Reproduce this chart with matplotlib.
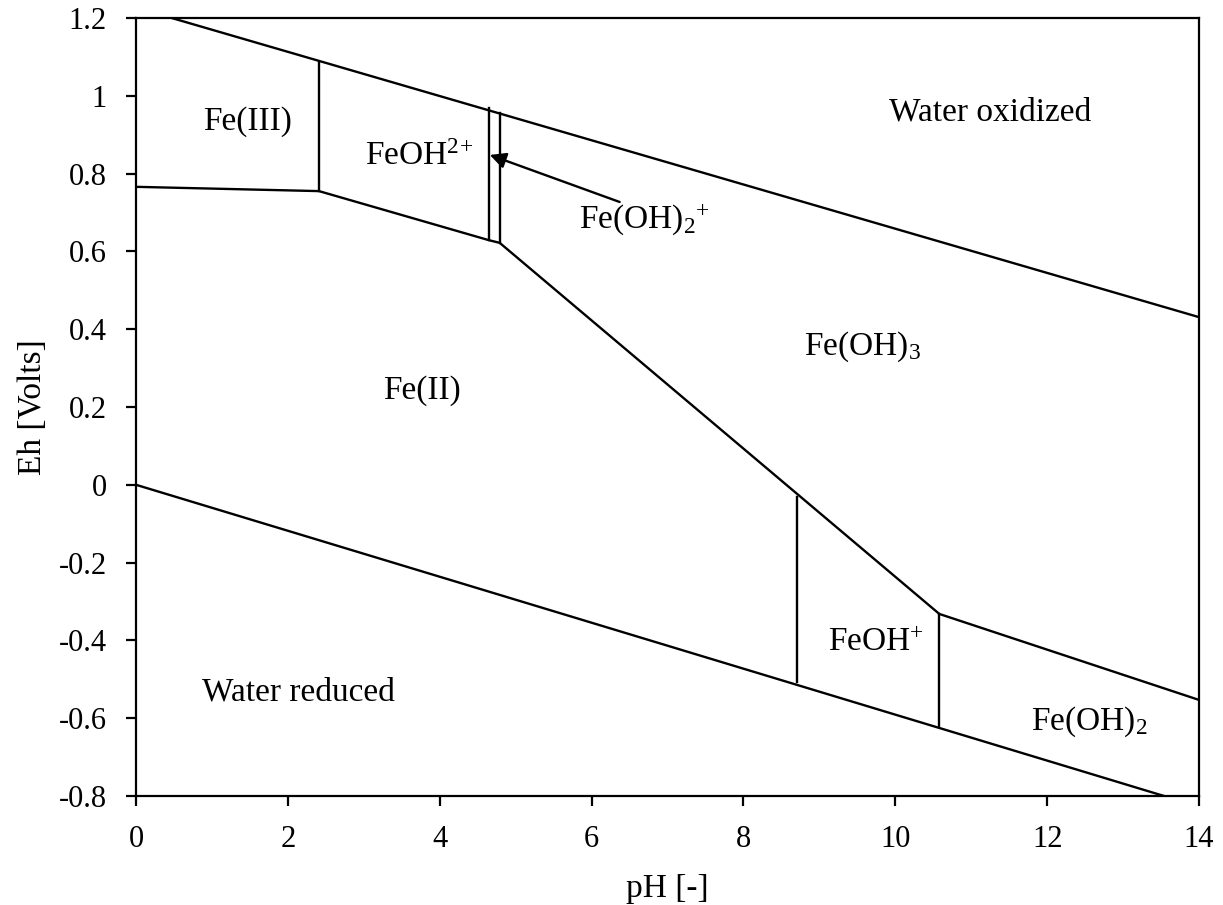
import matplotlib
matplotlib.use("Agg")
import matplotlib.pyplot as plt

plt.rcParams["font.family"] = ["Liberation Serif", "DejaVu Serif"]
plt.rcParams["mathtext.fontset"] = "custom"
plt.rcParams["mathtext.rm"] = "Liberation Serif"
plt.rcParams["mathtext.it"] = "Liberation Serif:italic"

# Stability boundaries of the Fe–H2O system (pH, Eh in volts)
water_ox_ph = [0.47, 14.0]
water_ox_eh = [1.20, 0.431]

water_red_ph = [0.0, 13.54]
water_red_eh = [0.0, -0.80]

fe3_fe2_ph = [0.0, 2.41, 4.645, 4.79, 10.58, 14.0]
fe3_fe2_eh = [0.766, 0.755, 0.629, 0.622, -0.332, -0.553]

# Vertical (acid–base) boundaries: pH, lower Eh, upper Eh
vert_ph = [2.41, 4.645, 4.79, 8.70, 10.58]
vert_lo = [0.755, 0.629, 0.622, -0.507, -0.623]
vert_hi = [1.087, 0.969, 0.956, -0.031, -0.332]

# Pointer from the Fe(OH)2+ label into the narrow field
arrow_tail = (6.37, 0.727)
arrow_head = (4.66, 0.848)

# Field labels
labels = ["Fe(III)", "FeOH$^{2}$$^{+}$", "Fe(OH)$_2$$^{+}$", "Water oxidized",
          "Fe(OH)$_3$", "Fe(II)", "FeOH$^{+}$", "Water reduced", "Fe(OH)$_2$"]
label_ph = [0.88, 3.01, 5.84, 9.92, 8.80, 3.26, 9.11, 0.87, 11.79]
label_eh = [0.933, 0.843, 0.682, 0.958, 0.355, 0.241, -0.407, -0.534, -0.610]

fig = plt.figure(figsize=(12.23, 9.05), dpi=100)
ax = fig.add_axes([136 / 1223, 1 - 796 / 905, (1199 - 136) / 1223, (796 - 18) / 905])

lw = 1.7
ax.plot(water_ox_ph, water_ox_eh, color="black", lw=lw)
ax.plot(water_red_ph, water_red_eh, color="black", lw=lw)
ax.plot(fe3_fe2_ph, fe3_fe2_eh, color="black", lw=lw)
for x, lo, hi in zip(vert_ph, vert_lo, vert_hi):
    ax.plot([x, x], [lo, hi], color="black", lw=lw)

ax.annotate("", xy=arrow_head, xytext=arrow_tail,
            arrowprops=dict(arrowstyle="-|>", color="black", lw=lw,
                            mutation_scale=24, shrinkA=0, shrinkB=0))

for txt, x, y in zip(labels, label_ph, label_eh):
    ax.text(x, y, txt, fontsize=24, ha="left", va="center")

ax.set_xlim(0, 14)
ax.set_ylim(-0.8, 1.2)
ax.set_xticks(range(0, 15, 2))
ax.set_yticks([-0.8, -0.6, -0.4, -0.2, 0, 0.2, 0.4, 0.6, 0.8, 1.0, 1.2])
ax.set_yticklabels(["-0.8", "-0.6", "-0.4", "-0.2", "0", "0.2", "0.4", "0.6",
                    "0.8", "1", "1.2"])
ax.tick_params(direction="out", length=7, width=1.6, labelsize=22)
ax.tick_params(axis="x", pad=14)
ax.tick_params(axis="y", pad=14)
for s in ax.spines.values():
    s.set_linewidth(1.6)

ax.set_xlabel("pH [-]", fontsize=24, labelpad=14)
ax.set_ylabel("Eh [Volts]", fontsize=24, labelpad=8)

fig.savefig("out.png", dpi=100)
